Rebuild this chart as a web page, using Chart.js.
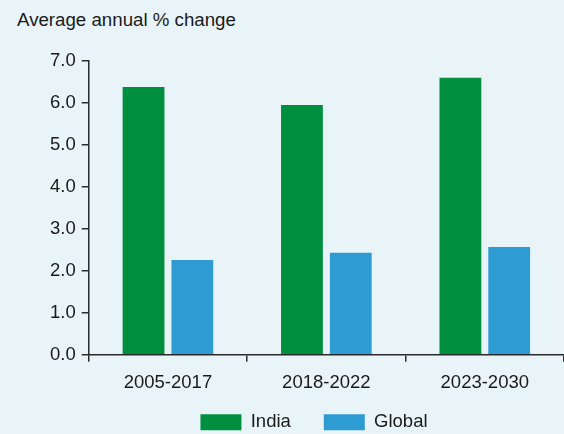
<!DOCTYPE html>
<html>
<head>
<meta charset="utf-8">
<script src="https://cdn.jsdelivr.net/npm/chart.js@4"></script>
<style>
  html, body { margin: 0; padding: 0; background: #e9f4f9; }
  #wrap { position: relative; width: 564px; height: 434px; }
  #title {
    position: absolute; left: 17px; top: 9px;
    font: 18.7px "Liberation Sans", Arial, sans-serif; color: #1a1a1a;
  }
  canvas { position: absolute; left: 0; top: 0; }
</style>
</head>
<body>
<div id="wrap">
  <div id="title">Average annual % change</div>
  <canvas id="chart" width="564" height="434"></canvas>
</div>
<script>
const periods = ["2005-2017", "2018-2022", "2023-2030"];
const india = [6.38, 5.95, 6.6];
const global = [2.26, 2.43, 2.57];
const yMin = 0;
const yMax = 7;
const yStep = 1;

const font = { family: '"Liberation Sans", Arial, sans-serif', size: 18.5 };
const ink = "#1a1a1a";
const axisColor = "#2b2b2b";

// move the legend to where it sits in the original (centre x 314, top 380)
const legendShift = {
  id: "legendShift",
  afterLayout(chart) {
    const lg = chart.legend;
    const dx = 314 - (lg.left + lg.right) / 2;
    lg.left += dx;
    lg.right += dx;
    lg.top = 380;
    lg.bottom = 434;
    lg.height = 54;
  }
};

const ctx = document.getElementById("chart").getContext("2d");
const chart = new Chart(ctx, {
  type: "bar",
  data: {
    labels: periods,
    datasets: [
      { label: "India", data: india, backgroundColor: "#008f3e" },
      { label: "Global", data: global, backgroundColor: "#2e9bd3" }
    ]
  },
  plugins: [legendShift],
  options: {
    responsive: false,
    animation: false,
    categoryPercentage: 0.616,
    barPercentage: 0.857,
    layout: { padding: { left: 44, right: 0, top: 61, bottom: 0 } },
    plugins: {
      title: { display: false },
      tooltip: { enabled: false },
      legend: {
        position: "bottom",
        maxHeight: 30,
        labels: {
          boxWidth: 41,
          boxHeight: 16,
          padding: 33,
          color: ink,
          font: font
        }
      }
    },
    scales: {
      x: {
        grid: { drawOnChartArea: false, tickLength: 7, color: axisColor, lineWidth: 1.5 },
        border: { color: axisColor, width: 1.5 },
        ticks: { color: ink, font: font, padding: 10 }
      },
      y: {
        min: yMin,
        max: yMax,
        grid: { drawOnChartArea: false, tickLength: 7, color: axisColor, lineWidth: 1.5 },
        border: { color: axisColor, width: 1.5 },
        ticks: {
          stepSize: yStep,
          color: ink,
          font: font,
          padding: 6,
          callback: (v) => v.toFixed(1)
        }
      }
    }
  }
});
</script>
</body>
</html>
